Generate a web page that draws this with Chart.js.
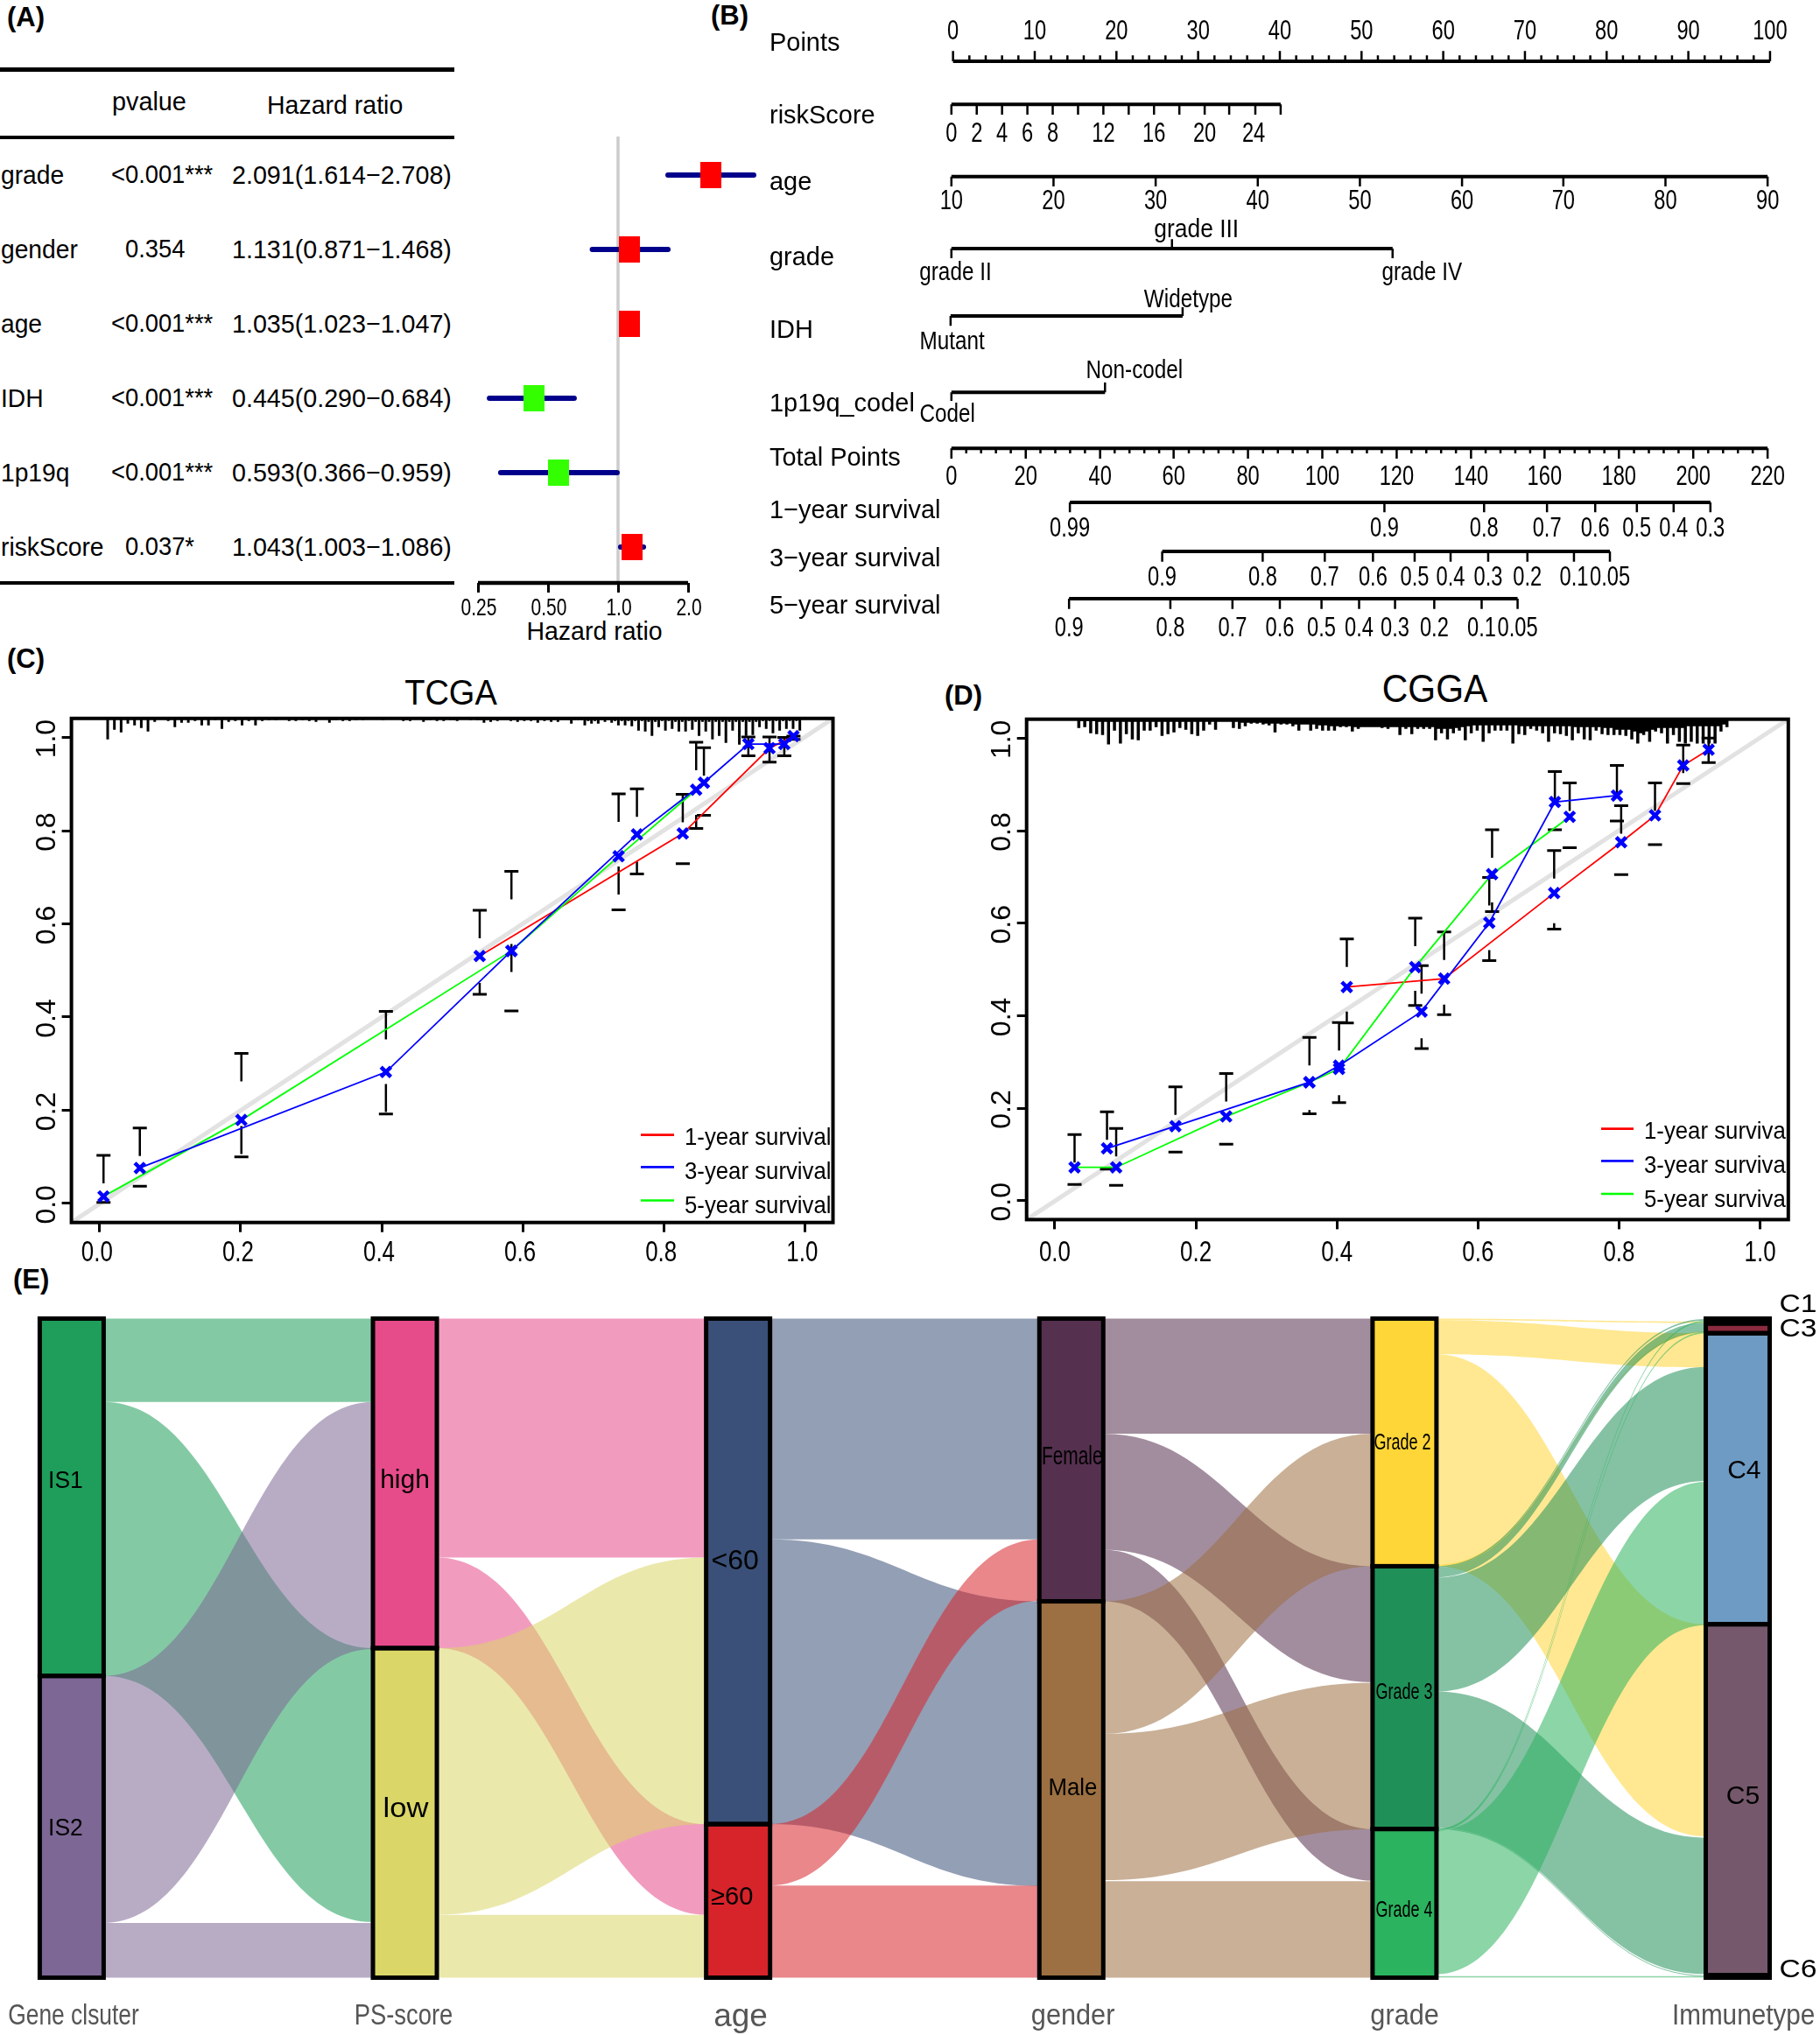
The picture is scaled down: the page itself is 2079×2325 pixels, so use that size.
<!DOCTYPE html>
<html>
<head>
<meta charset="utf-8">
<title>Prognostic model figure</title>
<script src="https://cdn.jsdelivr.net/npm/chart.js@4/dist/chart.umd.js"></script>
<style>
  html, body { margin: 0; background: #fff; }
  #page { position: relative; width: 2079px; height: 2325px; overflow: hidden; background: #fff; }
  canvas { position: absolute; }
  .t { position: absolute; white-space: nowrap; line-height: 1; color: #000; font-family: "Liberation Sans", Arial, sans-serif; }
  .rule { position: absolute; background: #000; }
</style>
</head>
<body>
<div id="page"></div>
<script>
// (A) forest table
var forestNames = ["grade", "gender", "age", "IDH", "1p19q", "riskScore"];
var forestPvalues = ["<0.001***", "0.354", "<0.001***", "<0.001***", "<0.001***", "0.037*"];
var forestRatios = ["2.091(1.614\u22122.708)", "1.131(0.871\u22121.468)", "1.035(1.023\u22121.047)", "0.445(0.290\u22120.684)", "0.593(0.366\u22120.959)", "1.043(1.003\u22121.086)"];
// plotted positions on the log axis
var forestMid = [2.505, 1.124, 1.124, 0.437, 0.557, 1.149];
var forestLow = [1.639, 0.775, 1.10, 0.280, 0.313, 1.026];
var forestHigh = [3.83, 1.639, 1.15, 0.648, 0.991, 1.286];
var forestTicks = [0.25, 0.5, 1, 2];
var forestTickLabels = ["0.25", "0.50", "1.0", "2.0"];

// (B) nomogram, every position is on the 0-100 Points ruler
var pointsMajor = [0, 10, 20, 30, 40, 50, 60, 70, 80, 90, 100];
var pointsMinor = [2, 4, 6, 8, 12, 14, 16, 18, 22, 24, 26, 28, 32, 34, 36, 38, 42, 44, 46, 48, 52, 54, 56, 58, 62, 64, 66, 68, 72, 74, 76, 78, 82, 84, 86, 88, 92, 94, 96, 98];
var riskTicks = [-0.2, 2.9, 6.0, 9.1, 12.2, 15.3, 18.4, 21.5, 24.6, 27.7, 30.8, 33.8, 37.0, 40.1];
var riskLabels = ["0", "2", "4", "6", "8", "12", "16", "20", "24"];
var riskLabelPos = [-0.2, 2.9, 6.0, 9.1, 12.2, 18.4, 24.6, 30.8, 36.8];
var ageTicks = [-0.2, 12.3, 24.8, 37.3, 49.8, 62.3, 74.7, 87.2, 99.7];
var ageLabels = ["10", "20", "30", "40", "50", "60", "70", "80", "90"];
var gradeTicks = [-0.2, 26.8, 53.8];
var gradeLabels = ["grade II", "grade III", "grade IV"];
var gradeLabelPos = [0.3, 29.8, 57.4];
var idhTicks = [-0.3, 28.1];
var idhLabels = ["Mutant", "Widetype"];
var idhLabelPos = [-0.1, 28.8];
var codelTicks = [-0.2, 18.6];
var codelLabels = ["Codel", "Non-codel"];
var codelLabelPos = [-0.7, 22.2];
var totalMajor = [-0.2, 8.9, 18.0, 27.0, 36.1, 45.2, 54.3, 63.4, 72.4, 81.5, 90.6, 99.7];
var totalLabels = ["0", "20", "40", "60", "80", "100", "120", "140", "160", "180", "200", "220"];
var year1Ticks = [14.3, 52.8, 65.0, 72.7, 78.6, 83.7, 88.2, 92.7];
var year1Labels = ["0.99", "0.9", "0.8", "0.7", "0.6", "0.5", "0.4", "0.3"];
var year3Ticks = [25.6, 37.9, 45.5, 51.4, 56.5, 60.9, 65.5, 70.3, 76.0, 80.4];
var year3Labels = ["0.9", "0.8", "0.7", "0.6", "0.5", "0.4", "0.3", "0.2", "0.1", "0.05"];
var year5Ticks = [14.2, 26.6, 34.2, 40.0, 45.1, 49.7, 54.1, 58.9, 64.7, 69.1];
var year5Labels = year3Labels;

// (C) TCGA calibration
var calibrationTicks = [0, 0.2, 0.4, 0.6, 0.8, 1];
var calibrationTickLabels = ["0.0", "0.2", "0.4", "0.6", "0.8", "1.0"];
var tcga1X = [0.539, 0.827, 0.950, 0.984];
var tcga1Y = [0.531, 0.794, 0.977, 1.003];
var tcga3X = [0.057, 0.406, 0.584, 0.762, 0.857, 0.920, 0.971];
var tcga3Y = [0.076, 0.282, 0.542, 0.792, 0.903, 0.986, 0.986];
var tcga5X = [0.0055, 0.201, 0.584, 0.736, 0.846];
var tcga5Y = [0.015, 0.179, 0.542, 0.745, 0.888];
var tcgaErrX = [0.0055, 0.057, 0.201, 0.406, 0.539, 0.584, 0.736, 0.762, 0.827, 0.846, 0.857, 0.920, 0.950, 0.971, 0.984];
var tcgaErrHigh = [0.103, 0.162, 0.322, 0.412, 0.629, 0.713, 0.879, 0.890, 0.878, 0.990, 0.978, 1.001, 1.001, 1.000, 1.003];
var tcgaErrLow = [0.002, 0.037, 0.100, 0.192, 0.449, 0.413, 0.630, 0.707, 0.729, 0.805, 0.833, 0.961, 0.947, 0.961, 0.996];
var tcgaRugCounts = [24, 13, 16, 6, 8, 11, 15, 4, 1, 3, 10, 5, 5, 3, 8, 8, 2, 12, 4, 3, 8, 3, 8, 3, 2, 2, 1, 3, 3, 2, 3, 4, 1, 5, 2, 3, 3, 2, 2, 1, 1, 2, 1, 1, 3, 3, 1, 4, 2, 3, 3, 2, 3, 1, 2, 2, 5, 4, 3, 2, 3, 4, 3, 3, 5, 3, 4, 4, 2, 6, 2, 8, 6, 6, 4, 5, 8, 8, 9, 14, 15, 20, 10, 14, 12, 15, 15, 13, 20, 15, 24, 20, 28, 14, 30, 20, 19, 10, 12, 17, 14, 12, 12, 14];
var tcgaRugBetween = [0, 0, 0, 0, 0, 0, 0, 0, 0, 0, 1, 0, 0, 1, 0, 0, 0, 1, 1, 0, 1, 0, 1, 1, 1, 1, 1, 1, 1, 1, 1, 1, 1, 2, 1, 1, 1, 1, 1, 1, 1, 1, 1, 1, 2, 1, 1, 2, 1, 1, 1, 2, 1, 1, 1, 2, 2, 2, 2, 2, 2, 2, 2, 2, 2, 2, 2, 2, 2, 2, 2, 3, 3, 2, 2, 3, 3, 3, 3, 3, 4, 4, 3, 3, 4, 4, 3, 4, 4, 4, 4, 4, 4, 4, 4, 4, 4, 3, 3, 3, 3, 3, 3];

// (D) CGGA calibration
var cgga1X = [0.414, 0.552, 0.708, 0.803, 0.851, 0.891, 0.927];
var cgga1Y = [0.462, 0.480, 0.665, 0.775, 0.833, 0.941, 0.975];
var cgga3X = [0.074, 0.171, 0.361, 0.403, 0.520, 0.616, 0.709, 0.797];
var cgga3Y = [0.113, 0.161, 0.256, 0.292, 0.409, 0.601, 0.862, 0.876];
var cgga5X = [0.028, 0.087, 0.243, 0.361, 0.403, 0.511, 0.620, 0.730];
var cgga5Y = [0.072, 0.072, 0.182, 0.256, 0.285, 0.505, 0.706, 0.830];
var cggaErrX = [0.028, 0.074, 0.087, 0.171, 0.243, 0.361, 0.403, 0.414, 0.511, 0.520, 0.552, 0.616, 0.620, 0.708, 0.709, 0.730, 0.797, 0.803, 0.851, 0.891, 0.927];
var cggaErrHigh = [0.143, 0.192, 0.156, 0.246, 0.275, 0.353, 0.385, 0.566, 0.611, 0.508, 0.581, 0.699, 0.802, 0.757, 0.928, 0.903, 0.941, 0.854, 0.903, 0.985, 1.000];
var cggaErrLow = [0.035, 0.068, 0.033, 0.105, 0.122, 0.188, 0.212, 0.384, 0.422, 0.329, 0.402, 0.519, 0.625, 0.587, 0.802, 0.763, 0.821, 0.705, 0.770, 0.902, 0.947];
var cggaRugCounts = [10, 9, 16, 17, 18, 29, 13, 28, 17, 23, 24, 13, 13, 9, 19, 17, 15, 10, 12, 17, 19, 13, 6, 12, 3, 3, 10, 11, 8, 5, 5, 6, 7, 15, 6, 6, 8, 13, 6, 13, 11, 13, 13, 13, 9, 9, 14, 11, 9, 9, 9, 10, 11, 9, 18, 11, 17, 11, 11, 11, 24, 16, 23, 16, 13, 24, 16, 13, 26, 16, 13, 13, 13, 28, 17, 18, 11, 13, 16, 26, 16, 17, 19, 24, 16, 23, 24, 13, 17, 18, 18, 18, 19, 23, 28, 18, 26, 14, 16, 28, 18, 26, 28, 26, 28, 28, 28, 28, 14, 9];
var cggaRugBetween = [2, 2, 2, 3, 3, 3, 3, 3, 3, 3, 3, 3, 3, 3, 3, 3, 3, 3, 3, 3, 3, 3, 3, 3, 3, 3, 3, 4, 4, 4, 4, 5, 5, 5, 5, 5, 6, 6, 6, 6, 7, 7, 8, 8, 8, 8, 9, 9, 9, 9, 9, 9, 9, 9, 9, 9, 9, 9, 9, 9, 11, 11, 11, 10, 9, 8, 7, 7, 7, 7, 7, 7, 7, 7, 8, 8, 8, 8, 8, 8, 8, 8, 8, 9, 9, 9, 9, 9, 10, 10, 12, 12, 12, 14, 16, 14, 12, 10, 10, 10, 10, 10, 8, 8, 8, 8, 8, 8, 6];

// (E) alluvial, sizes in shares of a 1352 unit column
var columnNames = ["Gene clsuter", "PS-score", "age", "gender", "grade", "Immunetype"];
var nodeNames = ["IS1", "IS2", "high", "low", "<60", "\u226560", "Female", "Male", "Grade 2", "Grade 3", "Grade 4", "C1", "C3", "C4", "C5", "C6"];
var nodeColumn = [0, 0, 1, 1, 2, 2, 3, 3, 4, 4, 4, 5, 5, 5, 5, 5];
var nodeStart = [0, 733, 0, 676, 0, 1037, 0, 580, 0, 508, 1047, 0, 10, 30, 627, 1347];
var nodeEnd = [733, 1352, 676, 1352, 1037, 1352, 580, 1352, 508, 1047, 1352, 10, 30, 627, 1347, 1352];
var flowSource = [0, 0, 1, 1, 2, 2, 3, 3, 4, 4, 5, 5, 6, 6, 6, 7, 7, 7, 8, 8, 8, 8, 9, 9, 9, 9, 9, 10, 10, 10, 10];
var flowLeft = [0, 171, 733, 1240, 0, 490, 676, 1223, 0, 453, 1037, 1163, 0, 236, 474, 580, 852, 1154, 0, 3, 73, 505, 508, 511, 531, 765, 1045.5, 1047, 1049, 1051, 1349];
var flowRight = [0, 676, 171, 1240, 0, 1037, 490, 1223, 0, 580, 453, 1163, 0, 508, 1047, 236, 747, 1154, 6, 30, 627, 26, 1, 8, 99, 1065, 1347.5, 4, 27, 335, 1349];
var flowSize = [171, 562, 507, 112, 490, 186, 547, 129, 453, 584, 126, 189, 236, 238, 106, 272, 300, 198, 3, 70, 435, 3, 3, 20, 234, 280, 1.5, 3, 3, 294, 2.5];
var nodeColors = ["#1e9e5a", "#7d6795", "#e64b8a", "#dad668", "#3a5078", "#d7242b", "#55304f", "#9c7042", "#ffd637", "#209059", "#2bb35f", "#000000", "#8b2b40", "#6e9bc3", "#75586c", "#000000"];

var FONT = '"Liberation Sans", Arial, sans-serif';
var page = document.getElementById("page");

Chart.defaults.animation = false;
Chart.defaults.responsive = false;
Chart.defaults.devicePixelRatio = 1;
Chart.defaults.font.family = FONT;
Chart.defaults.layout.autoPadding = false;
Chart.defaults.plugins.legend.display = false;
Chart.defaults.plugins.tooltip.enabled = false;

function addCanvas(x, y, w, h) {
  var canvas = document.createElement("canvas");
  canvas.width = w;
  canvas.height = h;
  canvas.style.left = x + "px";
  canvas.style.top = y + "px";
  canvas.style.width = w + "px";
  canvas.style.height = h + "px";
  page.appendChild(canvas);
  return canvas;
}

// positioned page text, x is the left edge unless centered
function addText(str, x, y, size, opts) {
  opts = opts || {};
  var el = document.createElement("div");
  el.className = "t";
  el.textContent = str;
  el.style.left = x + "px";
  el.style.top = y + "px";
  el.style.fontSize = size + "px";
  if (opts.bold) {
    el.style.fontWeight = "bold";
  }
  var sx = opts.sx || 1;
  el.style.transformOrigin = opts.center ? "center center" : "left center";
  el.style.transform = "translate(" + (opts.center ? "-50%" : "0") + ",-50%) scaleX(" + sx + ")";
  page.appendChild(el);
}

function addRule(x, y, w, h) {
  var el = document.createElement("div");
  el.className = "rule";
  el.style.left = x + "px";
  el.style.top = y - h / 2 + "px";
  el.style.width = w + "px";
  el.style.height = h + "px";
  page.appendChild(el);
}

// text on a chart canvas, squeezed or rotated where the figure does it
function canvasText(ctx, str, x, y, size, opts) {
  opts = opts || {};
  ctx.save();
  ctx.translate(x, y);
  if (opts.rotate) {
    ctx.rotate(opts.rotate);
  }
  ctx.scale(opts.sx || 1, 1);
  ctx.font = size + "px " + FONT;
  ctx.fillStyle = opts.color || "#000";
  ctx.textAlign = opts.align || "center";
  ctx.textBaseline = "middle";
  ctx.fillText(str, 0, size * 0.05);
  ctx.restore();
}

function zip(xs, ys) {
  return xs.map(function (x, i) {
    return { x: x, y: ys[i] };
  });
}

// library axis for tick marks, the squeezed tick text goes on with canvasText
function axisOptions(min, max, ticks, extra) {
  var axis = {
    type: "linear",
    min: min,
    max: max,
    bounds: "data",
    afterBuildTicks: function (scale) {
      scale.ticks = ticks.map(function (value) {
        return { value: value };
      });
    },
    grid: { drawOnChartArea: false, tickLength: 11, tickWidth: 3, tickColor: "#000" },
    border: { display: false },
    ticks: { display: false, autoSkip: false }
  };
  return Object.assign(axis, extra || {});
}

// ---------- (A) ----------
function buildForest() {
  addRule(0, 79.4, 519, 4.5);
  addRule(0, 157, 519, 4.5);
  addRule(0, 666, 519, 4.5);
  addText("pvalue", 127.6, 116, 30, { sx: 0.96 });
  addText("Hazard ratio", 304.7, 119.6, 30, { sx: 0.95 });
  forestNames.forEach(function (name, i) {
    var rowY = 200 + 85 * i;
    addText(name, 1, rowY, 30, { sx: 0.94 });
    var plainP = forestPvalues[i].charAt(0) !== "<";
    addText(forestPvalues[i], plainP ? 143 : 127, rowY - 1, 30, { sx: 0.91 });
    addText(forestRatios[i], 265, rowY, 30, { sx: 0.955 });
  });
  addText("Hazard ratio", 679, 721, 30, { center: true, sx: 0.95 });

  function box(color) {
    var c = document.createElement("canvas");
    c.width = 24;
    c.height = 30;
    var g = c.getContext("2d");
    g.fillStyle = color;
    g.fillRect(0, 0, 24, 30);
    return c;
  }
  var redBox = box("#ff0000");
  var greenBox = box("#33ff00");

  var whiskers = [];
  forestMid.forEach(function (mid, i) {
    whiskers.push({ x: forestLow[i], y: i }, { x: forestHigh[i], y: i }, { x: null, y: null });
  });

  var top = -0.518;
  var bottom = 5.482;
  new Chart(addCanvas(525, 140, 365, 600), {
    type: "scatter",
    data: {
      datasets: [
        { data: [{ x: 1, y: top }, { x: 1, y: bottom }], showLine: true, borderColor: "#cccccc", borderWidth: 3.5, pointRadius: 0, order: 4 },
        { data: whiskers, showLine: true, borderColor: "#00008b", borderWidth: 6, borderCapStyle: "round", pointRadius: 0, order: 3 },
        { data: [{ x: forestTicks[0], y: bottom }, { x: forestTicks[3], y: bottom }], showLine: true, borderColor: "#000", borderWidth: 4.5, pointRadius: 0, clip: false, order: 2 },
        {
          data: zip(forestMid, forestNames.map(function (n, i) { return i; })),
          pointStyle: forestMid.map(function (m) { return m > 1 ? redBox : greenBox; }),
          pointRadius: 10,
          order: 1
        }
      ]
    },
    options: {
      layout: { padding: { left: 5, right: 10, top: 16, bottom: 0 } },
      scales: {
        x: axisOptions(Math.pow(2, -2.2), Math.pow(2, 2.175), forestTicks, {
          type: "logarithmic",
          afterFit: function (scale) { scale.height = 74; }
        }),
        y: { type: "linear", min: top, max: bottom, reverse: true, display: false }
      }
    },
    plugins: [{
      id: "forestTickText",
      afterDraw: function (chart) {
        forestTicks.forEach(function (value, i) {
          canvasText(chart.ctx, forestTickLabels[i], chart.scales.x.getPixelForValue(value) + 1, 693.5 - 140, 28, { sx: 0.75 });
        });
      }
    }]
  });
}

// ---------- (B) ----------
function buildNomogram() {
  var numberSx = 0.74;
  var wordSx = 0.81;
  var rows = [
    { title: "Points", titleY: 48.3, y: 70, ticks: pointsMajor, len: -11.7, minor: pointsMinor, minorLen: -6.7, labels: pointsMajor.map(String), labelPos: pointsMajor, labelY: 35 },
    { title: "riskScore", titleY: 131.7, y: 119.3, ticks: riskTicks, len: 11.7, labels: riskLabels, labelPos: riskLabelPos, labelY: 151.7 },
    { title: "age", titleY: 207, y: 201.7, ticks: ageTicks, len: 11.3, labels: ageLabels, labelPos: ageTicks, labelY: 229 },
    { title: "grade", titleY: 293, y: 284, ticks: gradeTicks, len: [11, -10.7, 11], labels: gradeLabels, labelPos: gradeLabelPos, labelY: [310, 261.7, 310], sx: [wordSx, 0.88, wordSx] },
    { title: "IDH", titleY: 376.7, y: 361, ticks: idhTicks, len: [11.3, -10], labels: idhLabels, labelPos: idhLabelPos, labelY: [389, 341.7], sx: wordSx },
    { title: "1p19q_codel", titleY: 460, y: 448.3, ticks: codelTicks, len: [9.7, -11.3], labels: codelLabels, labelPos: codelLabelPos, labelY: [472.7, 422.3], sx: wordSx },
    { title: "Total Points", titleY: 522.7, y: 512.3, ticks: totalMajor, len: 11.7, minor: totalMinorTicks(), minorLen: 5.7, labels: totalLabels, labelPos: totalMajor, labelY: 544 },
    { title: "1\u2212year survival", titleY: 582, y: 574, ticks: year1Ticks, len: 11.3, labels: year1Labels, labelPos: year1Ticks, labelY: 602.7 },
    { title: "3\u2212year survival", titleY: 637, y: 630, ticks: year3Ticks, len: 11.7, labels: year3Labels, labelPos: year3Ticks, labelY: 658.3 },
    { title: "5\u2212year survival", titleY: 691.7, y: 684, ticks: year5Ticks, len: 11.7, labels: year5Labels, labelPos: year5Ticks, labelY: 716.7 }
  ];

  var lines = [];
  var majors = [];
  var minors = [];
  rows.forEach(function (row) {
    lines.push({ x: row.ticks[0], y: row.y }, { x: row.ticks[row.ticks.length - 1], y: row.y }, { x: null, y: null });
    row.ticks.forEach(function (pos, i) {
      var len = Array.isArray(row.len) ? row.len[i] : row.len;
      majors.push({ x: pos, y: row.y }, { x: pos, y: row.y + len }, { x: null, y: null });
    });
    (row.minor || []).forEach(function (pos) {
      minors.push({ x: pos, y: row.y }, { x: pos, y: row.y + row.minorLen }, { x: null, y: null });
    });
  });

  new Chart(addCanvas(870, 0, 1209, 740), {
    type: "scatter",
    data: {
      datasets: [
        { data: lines, showLine: true, borderColor: "#000", borderWidth: 4, pointRadius: 0 },
        { data: majors, showLine: true, borderColor: "#000", borderWidth: 2.5, pointRadius: 0 },
        { data: minors, showLine: true, borderColor: "#000", borderWidth: 2.5, pointRadius: 0 }
      ]
    },
    options: {
      layout: { padding: { left: 172, right: 10.4, top: 0, bottom: 0 } },
      scales: {
        x: { type: "linear", min: -5, max: 105, display: false },
        y: { type: "linear", min: 0, max: 740, reverse: true, display: false }
      }
    },
    plugins: [{
      id: "nomogramText",
      afterDraw: function (chart) {
        var ctx = chart.ctx;
        var x = chart.scales.x;
        var y = chart.scales.y;
        rows.forEach(function (row) {
          canvasText(ctx, row.title, 9, y.getPixelForValue(row.titleY), 30, { align: "left", sx: 0.965 });
          row.labels.forEach(function (label, i) {
            var labelY = Array.isArray(row.labelY) ? row.labelY[i] : row.labelY;
            var sx = row.sx === undefined ? numberSx : (Array.isArray(row.sx) ? row.sx[i] : row.sx);
            var size = row.sx === undefined ? 32 : 30;
            canvasText(ctx, label, x.getPixelForValue(row.labelPos[i]), y.getPixelForValue(labelY), size, { sx: sx });
          });
        });
      }
    }]
  });
}

// Total Points has a small tick every 4 points of its own 0-220 ruler
function totalMinorTicks() {
  var out = [];
  for (var v = 4; v < 220; v += 4) {
    if (v % 20 !== 0) {
      out.push(-0.2 + v * 99.9 / 220);
    }
  }
  return out;
}

// ---------- (C) and (D) ----------
function buildCalibration(cfg) {
  var lo = -0.04;
  var hi = 1.04;
  var stems = [];
  var caps = [];
  cfg.errX.forEach(function (x, i) {
    stems.push({ x: x, y: cfg.errHigh[i] }, { x: x, y: cfg.errLow[i] }, { x: null, y: null });
    caps.push({ x: x, y: cfg.errHigh[i] }, { x: x, y: cfg.errLow[i] });
  });
  var rug = [];
  var rugStep = (cfg.rugEnd - cfg.rugStart) / (cfg.rugCounts.length - 1);
  cfg.rugCounts.forEach(function (count, i) {
    var x = cfg.rugStart + i * rugStep;
    rug.push({ x: x, y: cfg.yMax }, { x: x, y: cfg.yMax - count * cfg.rugUnit }, { x: null, y: null });
  });
  cfg.rugBetween.forEach(function (count, i) {
    var x = cfg.rugStart + (i + 0.5) * rugStep;
    if (count > 0) {
      rug.push({ x: x, y: cfg.yMax }, { x: x, y: cfg.yMax - count * cfg.rugUnit }, { x: null, y: null });
    }
  });

  function survivalLine(xs, ys, color, order) {
    return {
      data: zip(xs, ys),
      showLine: true,
      borderColor: color,
      borderWidth: 1.8,
      pointStyle: "crossRot",
      pointRadius: 8,
      pointBorderColor: "#0000ff",
      pointBorderWidth: 4.5,
      order: order
    };
  }

  var legendNames = ["1-year survival", "3-year survival", "5-year survival"];
  var legendColors = ["#ff0000", "#0000ff", "#00ff00"];

  new Chart(addCanvas(cfg.canvasX, 810, cfg.canvasW, 660), {
    type: "scatter",
    data: {
      datasets: [
        { data: [{ x: lo, y: cfg.yMin }, { x: hi, y: cfg.yMax }], showLine: true, borderColor: "#e2e2e2", borderWidth: 5, pointRadius: 0, order: 9 },
        { data: rug, showLine: true, borderColor: "#000", borderWidth: cfg.rugWidth, pointRadius: 0, order: 8 },
        { data: stems, showLine: true, borderColor: "#000", borderWidth: 2.5, borderDash: [32, 51], pointRadius: 0, order: 7 },
        { data: caps, pointStyle: "line", pointRadius: 8, pointBorderColor: "#000", pointBorderWidth: 3, order: 6 },
        survivalLine(cfg.x1, cfg.y1, "#ff0000", 3),
        survivalLine(cfg.x5, cfg.y5, "#00ff00", 2),
        survivalLine(cfg.x3, cfg.y3, "#0000ff", 1)
      ]
    },
    options: {
      layout: { padding: { left: 0, right: cfg.padRight, top: cfg.padTop, bottom: 0 } },
      scales: {
        x: axisOptions(lo, hi, calibrationTicks, {
          afterFit: function (scale) { scale.height = cfg.xAxisHeight; }
        }),
        y: axisOptions(cfg.yMin, cfg.yMax, calibrationTicks, {
          afterFit: function (scale) { scale.width = cfg.yAxisWidth; }
        })
      }
    },
    plugins: [{
      id: "calibrationExtras",
      afterDatasetsDraw: function (chart) {
        var ctx = chart.ctx;
        var area = chart.chartArea;
        ctx.save();
        ctx.strokeStyle = "#000";
        ctx.lineWidth = 4;
        ctx.strokeRect(area.left, area.top, area.right - area.left, area.bottom - area.top);
        ctx.restore();
        calibrationTicks.forEach(function (value, i) {
          canvasText(ctx, calibrationTickLabels[i], cfg.yLabelX, chart.scales.y.getPixelForValue(value) + 1.5, 32, { rotate: -Math.PI / 2 });
          canvasText(ctx, calibrationTickLabels[i], chart.scales.x.getPixelForValue(value) + cfg.xLabelDx, 1430 - 810, 33, { sx: 0.785 });
        });
        legendNames.forEach(function (name, i) {
          var lineY = cfg.legendLineY[i] - 810;
          ctx.save();
          ctx.strokeStyle = legendColors[i];
          ctx.lineWidth = 2.6;
          ctx.beginPath();
          ctx.moveTo(cfg.legendX0 - cfg.canvasX, lineY);
          ctx.lineTo(cfg.legendX1 - cfg.canvasX, lineY);
          ctx.stroke();
          ctx.beginPath();
          ctx.rect(0, 0, cfg.legendClip - cfg.canvasX, 660);
          ctx.clip();
          canvasText(ctx, name, cfg.legendTextX - cfg.canvasX, cfg.legendTextY[i] - 810, 28, { align: "left", sx: 0.92 });
          ctx.restore();
        });
      }
    }]
  });
}

// ---------- (E) ----------
function buildAlluvial() {
  var top = 1470;
  // node label layout: offset from the column center, page y, size, squeeze
  var nodeText = [
    { dx: -7, y: 1691, size: 27, sx: 0.98 },
    { dx: -7, y: 2088, size: 27, sx: 0.98 },
    { dx: 0, y: 1690, size: 30, sx: 1 },
    { dx: 1, y: 2065.5, size: 32, sx: 1.08 },
    { dx: -3.5, y: 1782.6, size: 32, sx: 1 },
    { dx: -7, y: 2166.5, size: 30, sx: 0.97 },
    { dx: 1, y: 1663.7, size: 29, sx: 0.72 },
    { dx: 1.7, y: 2041.5, size: 28, sx: 0.92 },
    { dx: -2.4, y: 1648, size: 25, sx: 0.72 },
    { dx: -0.4, y: 1932.7, size: 25, sx: 0.72 },
    { dx: -0.4, y: 2182, size: 25, sx: 0.72 },
    { dx: 69, y: 1489, size: 30, sx: 1.12 },
    { dx: 69, y: 1517, size: 30, sx: 1.12 },
    { dx: 7.3, y: 1678.8, size: 30, sx: 1 },
    { dx: 6, y: 2051.6, size: 30, sx: 1 },
    { dx: 69, y: 2249.7, size: 30, sx: 1.12 }
  ];
  var columnText = [
    { x: 84, y: 2302, size: 33, sx: 0.8 },
    { x: 461, y: 2302, size: 33, sx: 0.83 },
    { x: 846, y: 2303, size: 37, sx: 1 },
    { x: 1225.6, y: 2302, size: 33, sx: 0.93 },
    { x: 1604.6, y: 2302, size: 33, sx: 0.93 },
    { x: 1991.6, y: 2302, size: 33, sx: 0.9 }
  ];
  var halfBar = 36.5;
  var knot = 0.45;

  var datasets = nodeNames.map(function (name, n) {
    return {
      label: name,
      data: columnNames.map(function (c, i) {
        return i === nodeColumn[n] ? [nodeStart[n], nodeEnd[n]] : null;
      }),
      backgroundColor: nodeColors[n],
      grouped: false,
      barThickness: halfBar * 2,
      clip: false
    };
  });

  function ribbon(ctx, x0, x1, a0, b0, a1, b1) {
    var k = (x1 - x0) * knot;
    ctx.beginPath();
    ctx.moveTo(x0, a0);
    ctx.bezierCurveTo(x0 + k, a0, x1 - k, a1, x1, a1);
    ctx.lineTo(x1, b1);
    ctx.bezierCurveTo(x1 - k, b1, x0 + k, b0, x0, b0);
    ctx.closePath();
    ctx.fill();
  }

  new Chart(addCanvas(0, top, 2079, 2325 - top), {
    type: "bar",
    data: { labels: columnNames, datasets: datasets },
    options: {
      layout: { padding: { left: 81.9, right: 94, top: 1506.5 - top, bottom: 2325 - 2259.5 } },
      scales: {
        x: { type: "category", offset: false, display: false },
        y: { type: "linear", min: 0, max: 1352, reverse: true, display: false }
      }
    },
    plugins: [{
      id: "alluvial",
      beforeDatasetsDraw: function (chart) {
        var ctx = chart.ctx;
        var x = chart.scales.x;
        var y = chart.scales.y;
        ctx.save();
        ctx.globalAlpha = 0.55;
        flowSource.forEach(function (node, i) {
          var col = nodeColumn[node];
          ctx.fillStyle = nodeColors[node];
          ribbon(ctx,
            x.getPixelForValue(col) + halfBar,
            x.getPixelForValue(col + 1) - halfBar,
            y.getPixelForValue(flowLeft[i]),
            y.getPixelForValue(flowLeft[i] + flowSize[i]),
            y.getPixelForValue(flowRight[i]),
            y.getPixelForValue(flowRight[i] + flowSize[i]));
        });
        ctx.restore();
      },
      afterDatasetsDraw: function (chart) {
        var ctx = chart.ctx;
        ctx.save();
        ctx.strokeStyle = "#000";
        ctx.lineWidth = 5;
        nodeNames.forEach(function (name, n) {
          var bar = chart.getDatasetMeta(n).data[nodeColumn[n]];
          ctx.strokeRect(bar.x - bar.width / 2, Math.min(bar.y, bar.base), bar.width, Math.abs(bar.base - bar.y));
        });
        ctx.restore();
        nodeNames.forEach(function (name, n) {
          var t = nodeText[n];
          canvasText(ctx, name, chart.scales.x.getPixelForValue(nodeColumn[n]) + t.dx, t.y - top, t.size, { sx: t.sx });
        });
        columnNames.forEach(function (name, i) {
          var t = columnText[i];
          canvasText(ctx, name, t.x, t.y - top, t.size, { sx: t.sx, color: "#555555" });
        });
      }
    }]
  });
}

addText("(A)", 8, 18.5, 31, { bold: true });
addText("(B)", 812, 17, 31, { bold: true });
addText("(C)", 8, 751.5, 31, { bold: true });
addText("(D)", 1079, 794, 31, { bold: true });
addText("(E)", 15, 1461, 31, { bold: true });
addText("TCGA", 514.7, 790.5, 40, { center: true, sx: 0.95 });
addText("CGGA", 1638.6, 786.8, 44, { center: true, sx: 0.93 });

buildForest();
buildNomogram();
buildCalibration({
  canvasX: 0, canvasW: 1000, padRight: 48.5, padTop: 10.8, xAxisHeight: 73.3, yAxisWidth: 81.6,
  yMin: -0.041, yMax: 1.041, yLabelX: 53, xLabelDx: -3, rugWidth: 3,
  x1: tcga1X, y1: tcga1Y, x3: tcga3X, y3: tcga3Y, x5: tcga5X, y5: tcga5Y,
  errX: tcgaErrX, errHigh: tcgaErrHigh, errLow: tcgaErrLow,
  rugCounts: tcgaRugCounts, rugBetween: tcgaRugBetween, rugStart: 0.0114, rugEnd: 0.993, rugUnit: 1 / 532,
  legendX0: 732, legendX1: 770, legendTextX: 782, legendClip: 950,
  legendLineY: [1296.6, 1333.4, 1371.5], legendTextY: [1299, 1338, 1377]
});
buildCalibration({
  canvasX: 1090, canvasW: 989, padRight: 36.2, padTop: 11.7, xAxisHeight: 76.6, yAxisWidth: 82.7,
  yMin: -0.041, yMax: 1.041, yLabelX: 53.5, xLabelDx: 0, rugWidth: 3.5,
  x1: cgga1X, y1: cgga1Y, x3: cgga3X, y3: cgga3Y, x5: cgga5X, y5: cgga5Y,
  errX: cggaErrX, errHigh: cggaErrHigh, errLow: cggaErrLow,
  rugCounts: cggaRugCounts, rugBetween: cggaRugBetween, rugStart: 0.034, rugEnd: 0.953, rugUnit: 1 / 530,
  legendX0: 1829, legendX1: 1866, legendTextX: 1878, legendClip: 2040,
  legendLineY: [1289.6, 1326.4, 1364], legendTextY: [1292, 1331, 1370]
});
buildAlluvial();
</script>
</body>
</html>
